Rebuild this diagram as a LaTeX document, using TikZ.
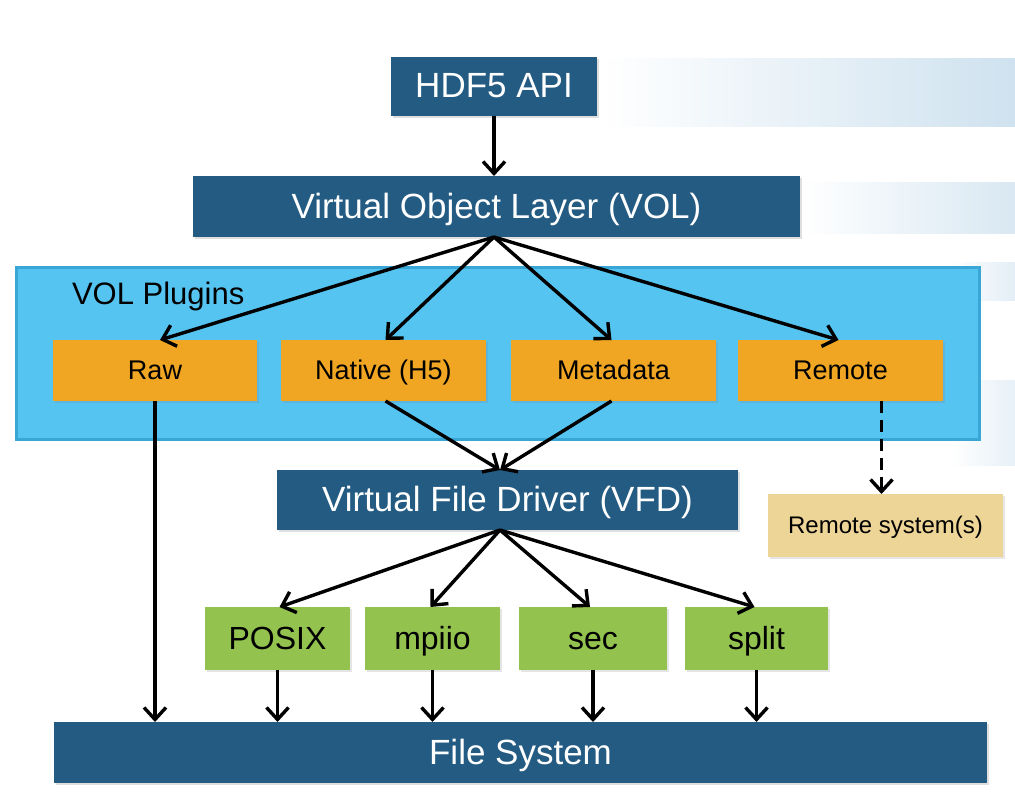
\documentclass[tikz,border=0pt]{standalone}
\usepackage{fontspec}
\setmainfont{Liberation Sans}
\usetikzlibrary{arrows.meta,shadows}
\definecolor{dblue}{HTML}{245B82}
\definecolor{lblue}{HTML}{55C4F0}
\definecolor{lblueb}{HTML}{3AA6D6}
\definecolor{orng}{HTML}{F0A623}
\definecolor{grn}{HTML}{93C24F}
\definecolor{tan}{HTML}{EDD497}
\definecolor{stripe}{HTML}{CFE2EF}
\tikzset{
  every node/.style={inner sep=0pt, outer sep=0pt},
  darkbox/.style={fill=dblue, text=white, font=\fontsize{35}{40}\selectfont, text height=25pt, text depth=2pt, drop shadow={opacity=0.25, shadow xshift=2pt, shadow yshift=-2pt}},
  plugbox/.style={fill=orng, text=black, font=\fontsize{27}{31}\selectfont, text height=19.5pt, text depth=1.5pt, drop shadow={opacity=0.2, shadow xshift=2pt, shadow yshift=-2pt}},
  drvbox/.style={fill=grn, text=black, font=\fontsize{32}{36}\selectfont, text height=23pt, text depth=2pt, drop shadow={opacity=0.2, shadow xshift=2pt, shadow yshift=-2pt}},
  conn/.style={line width=3.4pt, -{Straight Barb[length=12pt,width=22pt,line width=3.4pt]}},
}
\begin{document}
\begin{tikzpicture}[x=1pt,y=-1pt]
\useasboundingbox[fill=white] (0,0) rectangle (1015,801);
% background stripes
\shade[left color=white, right color=stripe] (600,58) rectangle (1015,126);
\shade[left color=white, right color=stripe!80] (800,182) rectangle (1015,233);
\shade[left color=white, right color=stripe!60] (950,262) rectangle (1015,300);
\shade[left color=white, right color=stripe!50] (950,380) rectangle (1015,465);
% VOL plugins container
\node[fill=lblue, draw=lblueb, line width=3pt, minimum width=963pt, minimum height=172pt, anchor=north west] (plugins) at (16,267) {};
\node[anchor=west, font=\fontsize{31}{35}\selectfont] (plabel) at (72,296) {VOL Plugins};
% top boxes
\node[darkbox, minimum width=206pt, minimum height=59pt] (api) at (494,86) {HDF5 API};
\node[darkbox, minimum width=607pt, minimum height=61pt] (vol) at (496.5,206.5) {Virtual Object Layer (VOL)};
% plugins
\node[plugbox, minimum width=204pt, minimum height=61pt] (raw) at (155,370.5) {Raw};
\node[plugbox, minimum width=205pt, minimum height=61pt] (native) at (383.5,370.5) {Native (H5)};
\node[plugbox, minimum width=205pt, minimum height=61pt] (meta) at (613.5,370.5) {Metadata};
\node[plugbox, minimum width=205pt, minimum height=61pt] (remote) at (840.5,370.5) {Remote};
% VFD
\node[darkbox, minimum width=461pt, minimum height=60pt] (vfd) at (507.5,500) {Virtual File Driver (VFD)};
\node[fill=tan, minimum width=235pt, minimum height=63pt, font=\fontsize{24}{28}\selectfont, text height=17pt, text depth=1.5pt, drop shadow={opacity=0.2, shadow xshift=2pt, shadow yshift=-2pt}] (rsys) at (885.5,525.5) {Remote system(s)};
% drivers
\node[drvbox, minimum width=145pt, minimum height=63pt] (posix) at (277.5,638.5) {POSIX};
\node[drvbox, minimum width=135pt, minimum height=63pt] (mpiio) at (432.5,638.5) {mpiio};
\node[drvbox, minimum width=148pt, minimum height=63pt] (sec) at (593,638.5) {sec};
\node[drvbox, minimum width=143pt, minimum height=63pt] (split) at (756.5,638.5) {split};
% file system
\node[darkbox, minimum width=933pt, minimum height=61pt] (fs) at (520.5,752.5) {File System};
% connectors
\coordinate (volb) at (494,237);
\coordinate (vfdt) at (500,470);
\coordinate (vfdb) at (500,530);
\coordinate (rd) at ([xshift=41pt]remote.south);
\draw[conn] (api.south) -- (vol.north -| api.south);
\draw[conn] (volb) -- ([xshift=5pt]raw.north);
\draw[conn] (volb) -- ([xshift=2pt]native.north);
\draw[conn] (volb) -- ([xshift=-2pt]meta.north);
\draw[conn] (volb) -- ([xshift=-2pt]remote.north);
\draw[conn] (raw.south) -- (fs.north -| raw.south);
\draw[conn] ([xshift=2pt]native.south) -- (vfdt);
\draw[conn] ([xshift=-2pt]meta.south) -- (vfdt);
\draw[conn, dash pattern=on 12pt off 7pt] (rd) -- (rd |- rsys.north);
\draw[conn] (vfdb) -- ([xshift=2pt]posix.north);
\draw[conn] (vfdb) -- ([xshift=-2pt]mpiio.north);
\draw[conn] (vfdb) -- ([xshift=-3pt]sec.north);
\draw[conn] (vfdb) -- ([xshift=-2pt]split.north);
\draw[conn] (posix.south) -- (fs.north -| posix.south);
\draw[conn] (mpiio.south) -- (fs.north -| mpiio.south);
\draw[conn] (sec.south) -- (fs.north -| sec.south);
\draw[conn] (split.south) -- (fs.north -| split.south);
\end{tikzpicture}
\end{document}
